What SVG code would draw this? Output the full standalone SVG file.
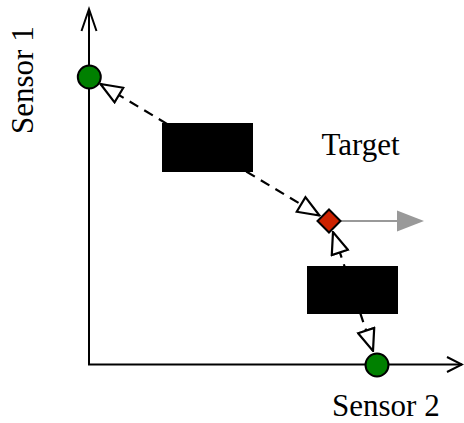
<svg xmlns="http://www.w3.org/2000/svg" width="464" height="423" viewBox="0 0 464 423">
<defs>
<style>
.axis{stroke:#000;stroke-width:2;fill:none}
.dash{stroke:#000;stroke-width:2.2;stroke-dasharray:10,7;fill:none}
.lbl{font-family:"Liberation Serif","Times New Roman",serif;font-size:31px;fill:#000}
.sensor{fill:#008000;stroke:#000;stroke-width:2}
.box{fill:#000}
</style>
<marker id="open" viewBox="0 0 24 20" refX="23" refY="10" markerWidth="24" markerHeight="20" markerUnits="userSpaceOnUse" orient="auto-start-reverse">
<path d="M1.5,1.5 L23,10 L1.5,18.5 Z" fill="#fff" stroke="#000" stroke-width="2.2" stroke-linejoin="miter"/>
</marker>
</defs>
<g id="axes">
<line class="axis" x1="89" y1="365" x2="89" y2="9"/>
<polyline class="axis" points="81.5,31 89,9 96.5,31"/>
<line class="axis" x1="88" y1="364.5" x2="462" y2="364.5"/>
<polyline class="axis" points="447,357 462,364.5 447,372"/>
</g>
<g id="connectors">
<line class="dash" x1="100.5" y1="84" x2="319.5" y2="215.5" marker-start="url(#open)" marker-end="url(#open)"/>
<line class="dash" x1="333" y1="232" x2="373" y2="351" marker-start="url(#open)" marker-end="url(#open)"/>
<line x1="341" y1="221" x2="399" y2="221" stroke="#999" stroke-width="2.2"/>
<polygon points="397,210.5 424,221 397,231.5" fill="#999"/>
</g>
<g id="box1"><rect class="box" x="162" y="123" width="91" height="49"/></g>
<g id="box2"><rect class="box" x="307" y="266" width="91" height="48"/></g>
<g id="sensor1"><circle class="sensor" cx="89.3" cy="77" r="11.5"/></g>
<g id="sensor2"><circle class="sensor" cx="377" cy="365" r="11.5"/></g>
<g id="target"><polygon points="329,209.5 340.5,221 329,232.5 317.5,221" fill="#cc2200" stroke="#000" stroke-width="2" stroke-linejoin="miter"/></g>
<g id="labels">
<text class="lbl" x="321.5" y="154.5">Target</text>
<text class="lbl" x="332" y="415.5">Sensor 2</text>
<text class="lbl" transform="translate(33.3,134) rotate(-90)">Sensor 1</text>
</g>
</svg>
